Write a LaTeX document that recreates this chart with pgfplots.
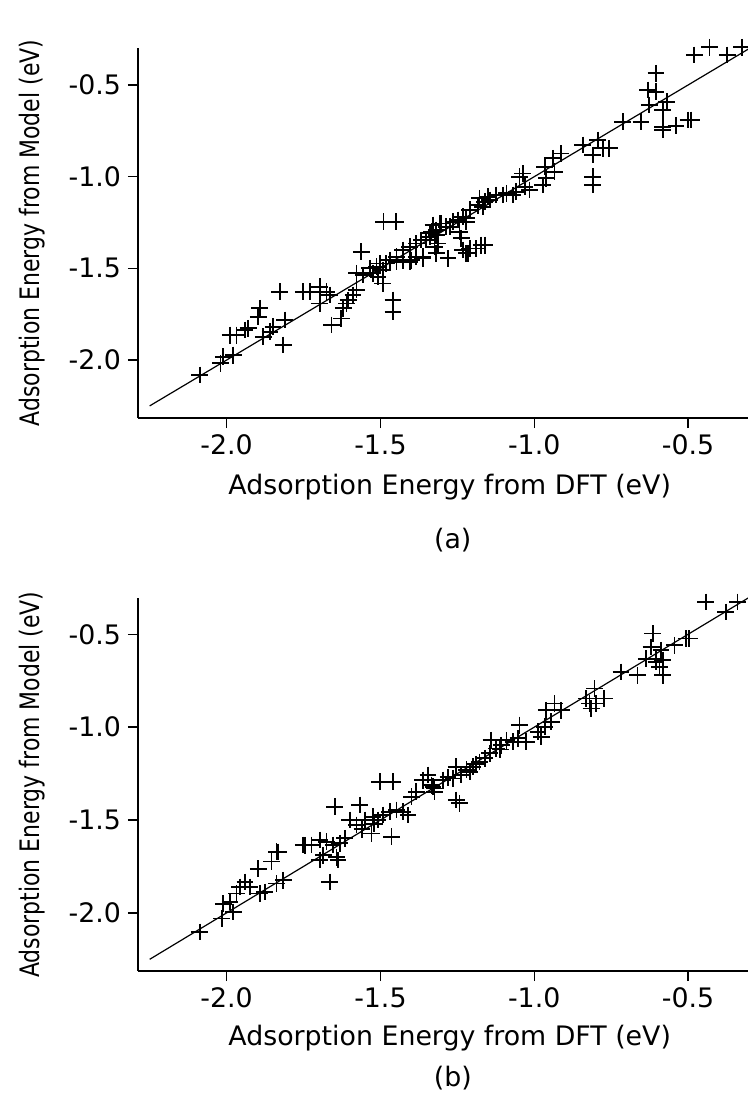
\documentclass[border=0pt]{standalone}
\usepackage{fontspec}
\setmainfont{DejaVu Sans}
\usepackage{pgfplots}
\pgfplotsset{compat=1.18}

% (DFT, model) in eV
\pgfplotstableread{
x y
-0.48 -0.336
-0.43 -0.294
-0.372 -0.336
-0.325 -0.294
-0.604 -0.436
-0.631 -0.527
-0.604 -0.536
-0.626 -0.609
-0.569 -0.591
-0.582 -0.636
-0.582 -0.727
-0.539 -0.722
-0.49 -0.691
-0.50 -0.691
-0.582 -0.745
-0.712 -0.70
-0.653 -0.70
-0.842 -0.827
-0.793 -0.80
-0.81 -0.882
-0.777 -0.845
-0.756 -0.845
-0.81 -1.0
-0.81 -1.045
-0.913 -0.873
-0.94 -0.90
-0.966 -0.946
-0.934 -0.973
-0.961 -1.009
-0.972 -1.045
-1.037 -0.982
-1.048 -1.0
-1.031 -1.055
-1.058 -1.082
-1.015 -1.073
-1.09 -1.091
-1.123 -1.10
-1.15 -1.109
-1.178 -1.118
-1.161 -1.137
-1.183 -1.155
-1.21 -1.18
-1.232 -1.218
-1.264 -1.245
-1.307 -1.255
-1.329 -1.264
-1.49 -1.245
-1.45 -1.245
-1.069 -1.10
-1.102 -1.10
-1.145 -1.127
-1.167 -1.164
-1.221 -1.227
-1.248 -1.236
-1.286 -1.273
-1.302 -1.255
-1.318 -1.291
-1.34 -1.309
-1.351 -1.345
-1.383 -1.364
-1.405 -1.382
-1.427 -1.40
-1.448 -1.436
-1.47 -1.455
-1.502 -1.473
-1.513 -1.491
-1.524 -1.527
-1.399 -1.455
-1.362 -1.436
-1.318 -1.418
-1.28 -1.445
-1.313 -1.364
-1.221 -1.418
-1.21 -1.391
-1.172 -1.373
-1.237 -1.336
-1.232 -1.40
-1.216 -1.418
-1.189 -1.391
-1.161 -1.373
-1.275 -1.273
-1.243 -1.30
-1.221 -1.245
-1.367 -1.345
-1.334 -1.30
-1.324 -1.382
-1.362 -1.445
-2.087 -2.082
-2.011 -1.982
-2.02 -2.018
-1.978 -1.973
-1.989 -1.864
-1.968 -1.864
-1.94 -1.836
-1.93 -1.827
-1.897 -1.764
-1.892 -1.718
-1.881 -1.873
-1.859 -1.845
-1.849 -1.818
-1.816 -1.918
-1.811 -1.782
-1.827 -1.627
-1.751 -1.627
-1.73 -1.627
-1.697 -1.60
-1.675 -1.627
-1.665 -1.645
-1.697 -1.691
-1.659 -1.809
-1.627 -1.773
-1.621 -1.718
-1.61 -1.691
-1.605 -1.673
-1.589 -1.645
-1.578 -1.618
-1.578 -1.527
-1.562 -1.409
-1.556 -1.536
-1.535 -1.50
-1.508 -1.545
-1.492 -1.582
-1.492 -1.509
-1.481 -1.473
-1.459 -1.673
-1.459 -1.736
-1.448 -1.464
-1.427 -1.455
-1.405 -1.464
-1.383 -1.436
-1.34 -1.327
-1.318 -1.318
}\dataA

\pgfplotstableread{
x y
-0.442 -0.326
-0.377 -0.38
-0.339 -0.326
-0.615 -0.496
-0.62 -0.568
-0.588 -0.586
-0.544 -0.559
-0.506 -0.523
-0.496 -0.523
-0.636 -0.631
-0.604 -0.631
-0.582 -0.64
-0.593 -0.676
-0.718 -0.703
-0.664 -0.72
-0.582 -0.72
-0.604 -0.649
-0.804 -0.792
-0.831 -0.846
-0.82 -0.873
-0.799 -0.873
-0.772 -0.846
-0.815 -0.899
-0.934 -0.873
-0.912 -0.909
-0.961 -0.909
-0.945 -0.971
-0.966 -0.998
-0.988 -1.025
-0.977 -1.052
-1.048 -0.989
-1.053 -1.06
-1.026 -1.079
-1.069 -1.079
-1.107 -1.097
-1.123 -1.115
-1.14 -1.07
-1.145 -1.141
-1.161 -1.168
-1.178 -1.187
-1.199 -1.213
-1.21 -1.24
-1.237 -1.258
-1.253 -1.213
-1.264 -1.276
-1.297 -1.285
-1.329 -1.321
-1.324 -1.348
-1.243 -1.41
-1.253 -1.392
-1.28 -1.27
-1.22 -1.23
-1.19 -1.20
-1.11 -1.12
-1.09 -1.07
-1.502 -1.294
-1.459 -1.294
-1.648 -1.428
-1.567 -1.419
-1.60 -1.50
-1.578 -1.527
-1.524 -1.482
-1.508 -1.50
-1.492 -1.473
-1.47 -1.455
-1.448 -1.446
-1.427 -1.455
-1.41 -1.473
-1.529 -1.572
-1.464 -1.59
-1.56 -1.55
-1.52 -1.52
-1.55 -1.50
-1.399 -1.375
-1.383 -1.348
-1.362 -1.285
-1.345 -1.258
-1.334 -1.312
-1.324 -1.33
-1.838 -1.67
-1.751 -1.634
-1.724 -1.634
-1.697 -1.607
-1.675 -1.617
-1.654 -1.634
-1.632 -1.625
-1.616 -1.598
-1.686 -1.69
-1.643 -1.70
-2.087 -2.103
-2.016 -2.03
-2.011 -1.95
-1.978 -1.995
-1.989 -1.941
-1.968 -1.896
-1.957 -1.861
-1.94 -1.834
-1.924 -1.861
-1.897 -1.762
-1.892 -1.896
-1.876 -1.888
-1.854 -1.723
-1.838 -1.842
-1.832 -1.672
-1.816 -1.825
-1.697 -1.715
-1.665 -1.834
-1.638 -1.715
-1.746 -1.636
}\dataB

\pgfplotsset{
  parity/.style={
    scale only axis, width=305pt,
    xmin=-2.288, xmax=-0.305,
    axis x line*=bottom, axis y line*=left,
    axis line style={line width=0.7pt},
    tick align=outside, major tick length=5pt,
    tick style={black, line width=0.7pt},
    xtick={-2,-1.5,-1,-0.5}, xticklabels={-2.0,-1.5,-1.0,-0.5},
    ytick={-2,-1.5,-1,-0.5}, yticklabels={-2.0,-1.5,-1.0,-0.5},
    ticklabel style={font=\fontsize{13.4}{16}\selectfont},
    label style={font=\fontsize{13.4}{16}\selectfont},
    xlabel={Adsorption Energy from DFT (eV)},
    ylabel={\scalebox{0.82}[1]{Adsorption Energy from Model (eV)}},
    ylabel style={at={(axis description cs:-0.173,0.5)}, anchor=center},
    clip=false,
  },
}

\begin{document}
\begin{tikzpicture}
\useasboundingbox (0,0) rectangle (374pt,-548pt);

\begin{axis}[parity, at={(69pt,-209pt)}, anchor=south west,
  height=185pt, ymin=-2.316, ymax=-0.298,
  xlabel style={at={(axis description cs:0.511,-0.1865)}, anchor=center}]
  \addplot[black, line width=0.6pt] coordinates {(-2.25,-2.25) (-0.28,-0.28)};
  \addplot[only marks, mark=+, mark size=4.2pt, mark options={line width=0.9pt}] table {\dataA};
  \node at (axis description cs:0.516,-0.33) {\fontsize{13.4}{16}\selectfont (a)};
\end{axis}

\begin{axis}[parity, at={(69pt,-485.5pt)}, anchor=south west,
  height=186.35pt, ymin=-2.313, ymax=-0.306,
  xlabel style={at={(axis description cs:0.511,-0.18)}, anchor=center}]
  \addplot[black, line width=0.6pt] coordinates {(-2.25,-2.25) (-0.28,-0.28)};
  \addplot[only marks, mark=+, mark size=4.2pt, mark options={line width=0.9pt}] table {\dataB};
  \node at (axis description cs:0.516,-0.287) {\fontsize{13.4}{16}\selectfont (b)};
\end{axis}
\end{tikzpicture}
\end{document}
